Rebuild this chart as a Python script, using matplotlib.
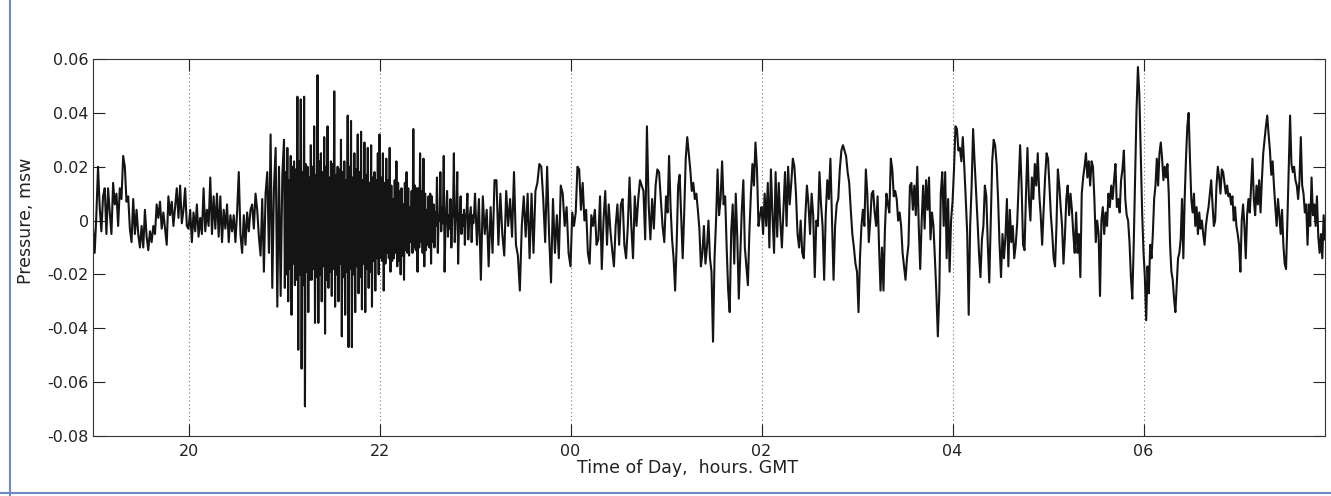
import numpy as np
import matplotlib
matplotlib.use('Agg')
import matplotlib.pyplot as plt
from matplotlib.lines import Line2D

plt.rcParams['font.family'] = ['DejaVu Sans']
plt.rcParams['axes.unicode_minus'] = False

## pressure, in mm of seawater, one list per hour (GMT)
p19 = [-3, -12, 2, 20, 5, -4, 9, 12, -5, 12, 3, -5, 14, 6, 10, -2, 12, 8, 24, 20,
       7, 9, -3, -8, 8, -5, 4, -5, -10, -2, -10, 4, -6, -11, -4, -8, -2, -5, 6, 1,
       7, -3, 3, -3, -9, 9, 2, 7, -2, 5, 12, 1, 13, -1, 4, 12, -2]
p20 = [-3, 4, -8, 3, -4, 6, -6, 1, -5, 12, -4, 4, -2, 16, -5, 9, -3, 10, -6, 9,
       -8, 4, -3, 6, -8, 2, -4, 2, -8, 3, 18, -5, -12, 2, -9, 3, -4, 4, 6, -3,
       10, 4, -6, -13, 8, -19, 10, 18, -12, 32, -25, 12, 27, -32, 20, -28, 17]
p21 = [30, -25, 18, -20, 27, -30, 15, -18, 24, -35, 20, -16, 22, -24, 19, -22,
       46, -48, 22, -20, 45, -55, 18, -24, 46, -69, 21, -19, 20, -34, 16, -22,
       28, -22, 20, -18, 35, -38, 17, -21, 54, -38, 22, -20, 25, -30, 18, -17,
       31, -42, 20, -22, 35, -25, 16, -19, 22, -28, 21, -18, 48, -32, 17, -20,
       20, -30, 19, -16, 30, -43, 18, -21, 22, -35, 15, -19, 39, -47, 20, -18,
       37, -47, 16, -20, 25, -34, 19, -17, 32, -27, 18, -21, 33, -33, 15, -16,
       29, -34, 17, -18, 27, -25, 14, -19, 28, -32, 16, -15, 18, -26, 15, -14, 25, -20]
p22 = [32, -14, 16, -15, 25, -26, 14, -16, 23, -12, 15, -14, 27, -19, 13, -15,
       8, -14, 15, -12, 22, -17, 14, -15, 11, -20, 12, -13, 6, -22, 14, -11,
       18, -12, 12, -13, 5, -8, 11, -12, 34, -10, 13, -11, 12, -19, 12, -10,
       25, -8, 11, -12, 23, -17, 10, -11, 4, -9, 9, -10, 10, -16, 9, -8,
       6, -10, 3, -2, 16, -12, 2, 0, 18, -4, 5, -1, 24, -19, -3, 4,
       11, -6, 2, -3, 8, -10, 1, 3, 25, -8, 0, 4, 18, -16, -2, 3,
       9, -5, 2, -2, 4, -9, 1, 3, 10, -7, -1, 2, 5, -8, 2, -1, 3]
p23 = [10, -9, 8, -22, 9, -5, 4, -17, 5, -12, 15,
       15, -9, 10, -5, -13, 11, -2, 8, -6, 18, -9, -13, -26, -2, 9, -6, 10, -14, 10,
       -12, 11, 14, 21, 20, 8, -8, 20, -5, -23, 8, -12, 2, -14, 13, 10, -2, 5, -12]
p00 = [-17, 3, -2, 3, 20, 19, 4, 14, 0, 4, -12, -16, 2, -2, 4, -9, -7, 9, -18, 0,
       11, -9, 6, -4, -11, -17, -2, 6, -9, 6, 8, -9, -14, -2, 16, -2, -14, 9, -2, 8,
       15, 13, 11, -7, 35, 6, -7, 8, -3, 13, 19, 18, 8, -2, -8]
p01 = [9, 3, 24, 5, -7, -14, -26, -9, 13, 17, 2, -14, 3, 23, 31, 25, 19, 11, 14, 8,
       10, 4, -3, -17, -12,
       -2, -16, -10, 0, -14, -19, -45, -14, 0, 19, 2, 8, 22, 6, 9, -10, -26, -34, -4,
       6, -16, 10, -6, -29, -12, 4, 15, -10, -17, -24, -4, 10, 21, 13, 29, 19, -2, 2]
p02 = [5, -5, 10, -2, 14, -10, 19, 2, -12, 18, -6, 14, 0, -10, 4, 18, -2, 20, 6, 14,
       23, 20, 10, -5, -10, 0, -12, -14, 2, 13, 6, -5, 10, 2, -21, 0, -2, 18, 6, -2,
       -22, 2, 15, 8, 23, 0, -22, -2, 6, 8, 19, 26, 28, 26, 24, 18, 14, 4, -5, -10, -16]
p03 = [-19, -34, -14, -2, 4, -2, 19, 10, -8, 0, 10, 11, 3, -2, 9, -10, -26, -10, -26,
       -3, 10, 6, 3, 23, 19, 9, 11, 8, 0, 3, -2, -12, -17, -22, -14,
       -9, 13, 14, 4, 13, 2, 20, -2, -18, 0, 13, -3, 15, 4, 16, -7, 3, -2, -14, -27,
       -43, -27, 10, 18, -2, 18, -14, 8, -19, 0]
p04 = [7, 19, 35, 34, 26, 27, 22, 31, 20, 8, -5, -35, -2, 13, 34, 22, 11, 0, -12, -21,
       -7, -2, 13, 9, -9, -23, 0, 22, 30, 28, 21, 8, -9, -21, -5, -14, -6, 8, -17, 4,
       -8, -2, -14, -9, -1, 14, 28, 13, -9, -11, 10, 27, 8, 0, 16, 8, 21, 13, 25, 10,
       2, -9, 4, 16, 25]
p05 = [23, 13, 2, -5, -14, -17, -2, 19, 13, 5, -2, -16, -6, 8, 13, 2, 10, 4, -5, -12,
       3, -12, -5, -21, 10, 16, 20, 25, 16, 22, 13, 22, 20, 8, -8, 0, -5, -28, 0, 5,
       -5, 3, -2, 10, 5, 13, 8, 15,
       21, 5, 8, 3, 15, 19, 26, 8, 2, 0, -8, -21, -29, -9, 16, 41, 57, 47, 25, 3]
p06 = [-12, -21, -37, -17, -27, -9, -14, -5, 8, 13, 23, 13, 25, 29, 23, 15, 20, 16, 21,
       10, -9, -19, -22, -29, -34, -24, -14, -12, -7, 8, -14, 8, 23, 35, 40, 23, 8, 3,
       10, -2, 5, -5, 3, -3, 0, -5, -9, -2, 2, 5, 10, 15, 6, -2, 0, 13, 20, 16, 10, 19,
       18, 14, 10, 13, 9, 10, 6, 9, 0, 5, -2, -5]
p07 = [-9, -19, 0, 6, -2, -14, 2, 8, 3, 13, 23, 8, 2, 13, 6, 15, 3, 15, 25, 30, 35, 39,
       32, 26, 17, 22, 13, 5, -2, 8, 2, -5, 4, -9, -16, -18, 0, 20, 39, 21, 18, 20, 15,
       13, 8, 15, 31, 13, 10, 3, 6, -9, 6, -2, 16, 2, 6, -2, 9, -6, -12, -5, -14, 2, -7]

hour_lists = [p19, p20, p21, p22, p23, p00, p01, p02, p03, p04, p05, p06, p07]
hour_start = [19, 20, 21, 22, 23, 24, 25, 26, 27, 28, 29, 30, 31]
hour_span = [1, 1, 1, 1, 1, 1, 1, 1, 1, 1, 1, 1, 0.9]

x_ticks = [20, 22, 24, 26, 28, 30]
x_labels = ['20', '22', '00', '02', '04', '06']
y_ticks = [-0.08, -0.06, -0.04, -0.02, 0, 0.02, 0.04, 0.06]
y_labels = ['-0.08', '-0.06', '-0.04', '-0.02', '0', '0.02', '0.04', '0.06']

## time axis in hours (past midnight continues as 24, 25, ...)
t = np.concatenate([np.linspace(h, h + s, len(p), endpoint=(i == len(hour_lists) - 1))
                    for i, (h, s, p) in enumerate(zip(hour_start, hour_span, hour_lists))])
pres = np.concatenate([np.array(p, dtype=float) for p in hour_lists]) / 1000.0

fig = plt.figure(figsize=(13.31, 4.96), dpi=100)
ax = fig.add_axes([93 / 1331, 1 - 436 / 496, 1232 / 1331, 377 / 496])

ax.plot(t, pres, color='#141414', linewidth=1.5)

ax.set_xlim(19, 31.9)
ax.set_ylim(-0.08, 0.06)
ax.set_xticks(x_ticks)
ax.set_xticklabels(x_labels)
ax.set_yticks(y_ticks)
ax.set_yticklabels(y_labels)
ax.tick_params(direction='in', length=8.5, width=0.8, top=True, right=True,
               labelsize=11.5, colors='#222222')
ax.tick_params(axis='x', pad=6)
ax.tick_params(axis='y', pad=3)
ax.xaxis.grid(True, linestyle=(0, (1, 2.5)), color='#777777', linewidth=0.8)
for s in ax.spines.values():
    s.set_linewidth(0.8)
    s.set_color('#333333')

ax.set_ylabel('Pressure, msw', fontsize=12.5, color='#222222')
ax.yaxis.set_label_coords((35 - 93) / 1232, (436 - 221) / 377)
ax.set_xlabel('Time of Day,  hours. GMT', fontsize=12.5, color='#222222')
ax.xaxis.set_label_coords((688 - 93) / 1232, -(459 - 436) / 377)

## scan frame lines
fig.add_artist(Line2D([10 / 1331, 10 / 1331], [0, 1], transform=fig.transFigure,
                      color='#7088c8', linewidth=1.5))
fig.add_artist(Line2D([0, 1], [1 - 493 / 496, 1 - 493 / 496], transform=fig.transFigure,
                      color='#7088c8', linewidth=1.5))

fig.savefig('out.png', dpi=100)
